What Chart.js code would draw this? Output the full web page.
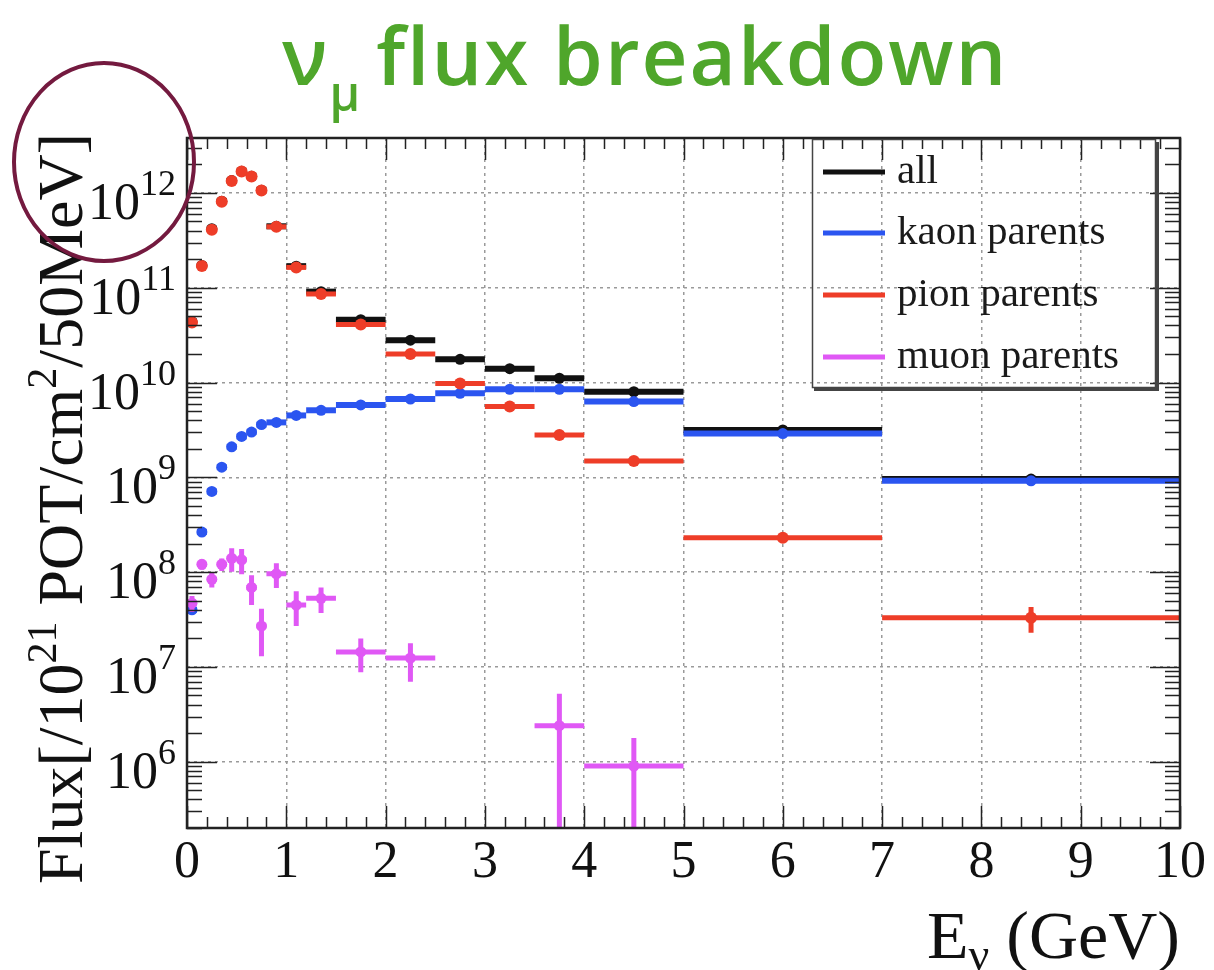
<!DOCTYPE html>
<html>
<head>
<meta charset="utf-8">
<script src="https://cdn.jsdelivr.net/npm/chart.js@4.4.1/dist/chart.umd.min.js"></script>
<style>
  html, body { margin: 0; padding: 0; background: #fff; }
  .wrap { position: relative; width: 1214px; height: 970px; overflow: hidden; }
  #flux { position: absolute; left: 0; top: 0; }
  .title {
    position: absolute; left: 282px; top: 14px;
    font-family: "Open Sans", sans-serif; font-size: 80px; font-weight: 600; line-height: 1;
    letter-spacing: 2px; color: #4fa62b; white-space: nowrap;
  }
  .title sub { font-size: 48px; vertical-align: -26px; margin-right: 16px; letter-spacing: 0; }
</style>
</head>
<body>
<div class="wrap">
  <canvas id="flux" width="1214" height="970"></canvas>
  <div class="title">ν<sub>μ</sub>flux breakdown</div>
</div>
<script>
// energy bins (GeV)
const binEdges = [0, 0.1, 0.2, 0.3, 0.4, 0.5, 0.6, 0.7, 0.8, 1.0, 1.2, 1.5, 2.0, 2.5, 3.0, 3.5, 4.0, 5.0, 7.0, 10.0];

// flux per bin
const allFlux  = [4.4e10, 1.72e11, 4.2e11, 8.2e11, 1.35e12, 1.69e12, 1.5e12, 1.07e12, 4.45e11, 1.69e11, 9.1e10, 4.6e10, 2.8e10, 1.76e10, 1.4e10, 1.11e10, 8.0e9, 3.16e9, 9.6e8];
const kaonFlux = [4.0e7, 2.65e8, 7.1e8, 1.28e9, 2.1e9, 2.7e9, 3.0e9, 3.6e9, 3.8e9, 4.5e9, 5.1e9, 5.8e9, 6.7e9, 7.7e9, 8.5e9, 8.5e9, 6.3e9, 2.9e9, 9.2e8];
const pionFlux = [4.3e10, 1.7e11, 4.1e11, 8.1e11, 1.34e12, 1.68e12, 1.49e12, 1.06e12, 4.4e11, 1.64e11, 8.6e10, 4.1e10, 2.0e10, 9.8e9, 5.6e9, 2.8e9, 1.49e9, 2.3e8, 3.3e7];
const muonFlux = [4.7e7, 1.21e8, 8.4e7, 1.21e8, 1.4e8, 1.35e8, 6.9e7, 2.7e7, 9.6e7, 4.5e7, 5.3e7, 1.44e7, 1.24e7, null, null, 2.4e6, 9.0e5, null, null];

// statistical errors (absolute)
const pionErr = [0, 0, 0, 0, 0, 0, 0, 0, 0, 0, 0, 0, 0, 0, 0, 0, 0, 0, 1.0e7];
const muonErr = [0.9e7, 1.5e7, 1.5e7, 1.8e7, 3.9e7, 4.0e7, 2.4e7, 1.4e7, 2.8e7, 1.8e7, 1.6e7, 5.6e6, 5.4e6, 0, 0, 2.8e6, 8.8e5, 0, 0];

const xTicks = [0, 1, 2, 3, 4, 5, 6, 7, 8, 9, 10];
const yDecades = [6, 7, 8, 9, 10, 11, 12];

const serif = '"Liberation Serif", "Times New Roman", serif';

function points(vals, errs) {
  const out = [];
  vals.forEach((v, i) => {
    if (v == null) return;
    const lo = binEdges[i], hi = binEdges[i + 1];
    out.push({ x: (lo + hi) / 2, y: v, lo: lo, hi: hi, err: errs ? errs[i] : 0 });
  });
  return out;
}

// bin-width bars and vertical error bars, drawn just under each dataset's markers
const histBars = {
  id: 'histBars',
  beforeDatasetDraw(chart, args) {
    const ds = chart.data.datasets[args.index];
    const { ctx, chartArea: a, scales: { x, y } } = chart;
    ctx.save();
    ctx.beginPath();
    ctx.rect(a.left, a.top, a.right - a.left, a.bottom - a.top);
    ctx.clip();
    ctx.strokeStyle = ds.backgroundColor;
    ctx.lineWidth = ds.barWidth;
    ds.data.forEach(p => {
      const py = y.getPixelForValue(p.y);
      ctx.beginPath();
      ctx.moveTo(x.getPixelForValue(p.lo), py);
      ctx.lineTo(x.getPixelForValue(p.hi), py);
      if (p.err > 0) {
        const px = x.getPixelForValue(p.x);
        const top = y.getPixelForValue(p.y + p.err);
        const bot = p.y - p.err > 0 ? y.getPixelForValue(p.y - p.err) : a.bottom + 10;
        ctx.moveTo(px, top);
        ctx.lineTo(px, bot);
      }
      ctx.stroke();
    });
    ctx.restore();
  }
};

function drawRich(ctx, parts, x0, y0) {
  let x = x0;
  parts.forEach(p => {
    ctx.font = p.size + 'px ' + serif;
    ctx.fillText(p.t, x, y0 + (p.dy || 0));
    x += ctx.measureText(p.t).width;
  });
}
function richWidth(ctx, parts) {
  let w = 0;
  parts.forEach(p => { ctx.font = p.size + 'px ' + serif; w += ctx.measureText(p.t).width; });
  return w;
}

// ROOT-like frame, inward ticks, labels, legend and the hand-drawn circle
const decor = {
  id: 'decor',
  afterDatasetsDraw(chart) {
    const { ctx, chartArea: a, scales: { x, y } } = chart;
    ctx.save();
    ctx.strokeStyle = '#222';
    ctx.lineWidth = 1.5;
    ctx.beginPath();
    for (let i = 0; i <= 50; i++) {
      const px = Math.round(x.getPixelForValue(i * 0.2)) + 0.5;
      const len = i % 5 === 0 ? 22 : 11;
      ctx.moveTo(px, a.bottom); ctx.lineTo(px, a.bottom - len);
      ctx.moveTo(px, a.top); ctx.lineTo(px, a.top + len);
    }
    for (let e = 5; e <= 12; e++) {
      for (let m = 1; m <= 9; m++) {
        const v = m * Math.pow(10, e);
        if (v < y.min || v > y.max) continue;
        const py = Math.round(y.getPixelForValue(v)) + 0.5;
        const len = m === 1 ? 30 : 15;
        ctx.moveTo(a.left, py); ctx.lineTo(a.left + len, py);
        ctx.moveTo(a.right, py); ctx.lineTo(a.right - len, py);
      }
    }
    ctx.stroke();
    ctx.lineWidth = 2.5;
    ctx.strokeRect(a.left, a.top, a.right - a.left, a.bottom - a.top);
    ctx.restore();
  },
  afterDraw(chart) {
    const { ctx, chartArea: a, scales: { y } } = chart;
    ctx.save();
    ctx.fillStyle = '#111';
    ctx.textBaseline = 'alphabetic';
    ctx.textAlign = 'left';

    // y tick labels 10^n
    yDecades.forEach(e => {
      const gy = y.getPixelForValue(Math.pow(10, e));
      const parts = [{ t: '10', size: 52, dy: 26 }, { t: String(e), size: 36, dy: 2 }];
      const w = richWidth(ctx, parts);
      drawRich(ctx, parts, 176 - w, gy);
    });

    // y axis title (rotated)
    const yTitle = [
      { t: 'Flux[/10', size: 64 }, { t: '21', size: 42, dy: -26 },
      { t: ' POT/cm', size: 64 }, { t: '2', size: 42, dy: -26 },
      { t: '/50MeV]', size: 64 }
    ];
    ctx.save();
    ctx.translate(82, 133);
    ctx.rotate(-Math.PI / 2);
    drawRich(ctx, yTitle, -richWidth(ctx, yTitle), 0);
    ctx.restore();

    // x axis title
    const xTitle = [{ t: 'E', size: 68 }, { t: 'ν', size: 46, dy: 12 }, { t: ' (GeV)', size: 68 }];
    drawRich(ctx, xTitle, a.right - richWidth(ctx, xTitle), 958);

    // legend box
    ctx.strokeStyle = '#444';
    ctx.lineWidth = 1.5;
    ctx.strokeRect(812.5, 139.5, 343, 248);
    ctx.lineWidth = 3;
    ctx.beginPath();
    ctx.moveTo(814, 389.5); ctx.lineTo(1157.5, 389.5); ctx.lineTo(1157.5, 142);
    ctx.stroke();
    const rows = [172, 233, 295, 357];
    chart.data.datasets.forEach((ds, i) => {
      ctx.strokeStyle = ds.backgroundColor;
      ctx.lineWidth = 5;
      ctx.beginPath();
      ctx.moveTo(823, rows[i]); ctx.lineTo(885, rows[i]);
      ctx.stroke();
      ctx.fillStyle = '#1a1a1a';
      ctx.font = '41px ' + serif;
      ctx.fillText(ds.label, 897, rows[i] + 11);
    });

    // circle around the top label
    ctx.strokeStyle = '#741a3f';
    ctx.lineWidth = 4;
    ctx.beginPath();
    ctx.ellipse(104, 162, 90, 99, 0, 0, Math.PI * 2);
    ctx.stroke();
    ctx.restore();
  }
};

new Chart(document.getElementById('flux'), {
  type: 'scatter',
  data: {
    datasets: [
      { label: 'all', data: points(allFlux), backgroundColor: '#111111', pointRadius: 5.5, barWidth: 6, order: 4 },
      { label: 'kaon parents', data: points(kaonFlux), backgroundColor: '#2b55f0', pointRadius: 5.5, barWidth: 6, order: 3 },
      { label: 'pion parents', data: points(pionFlux, pionErr), backgroundColor: '#ee3d28', pointRadius: 6, barWidth: 5, order: 2 },
      { label: 'muon parents', data: points(muonFlux, muonErr), backgroundColor: '#e058f5', pointRadius: 5.5, barWidth: 5, order: 1 }
    ]
  },
  options: {
    responsive: false,
    animation: false,
    devicePixelRatio: 1,
    layout: { padding: { top: 138, right: 34, left: 0, bottom: 0 } },
    elements: { point: { borderWidth: 0, hoverRadius: 5 } },
    plugins: { legend: { display: false }, tooltip: { enabled: false } },
    scales: {
      x: {
        type: 'linear', min: 0, max: 10,
        afterBuildTicks: s => { s.ticks = xTicks.map(v => ({ value: v })); },
        afterFit: s => { s.height = 142; },
        ticks: { font: { family: serif, size: 52 }, color: '#111', padding: 4, maxRotation: 0, autoSkip: false },
        grid: { color: '#9a9a9a', lineWidth: 1.5, drawTicks: false },
        border: { display: false, dash: [3, 4] }
      },
      y: {
        type: 'logarithmic', min: 2e5, max: 3.8e12,
        afterBuildTicks: s => { s.ticks = yDecades.map(e => ({ value: Math.pow(10, e) })); },
        afterFit: s => { s.width = 187; },
        ticks: { display: false },
        grid: { color: '#9a9a9a', lineWidth: 1.5, drawTicks: false },
        border: { display: false, dash: [3, 4] }
      }
    }
  },
  plugins: [histBars, decor]
});
</script>
</body>
</html>
